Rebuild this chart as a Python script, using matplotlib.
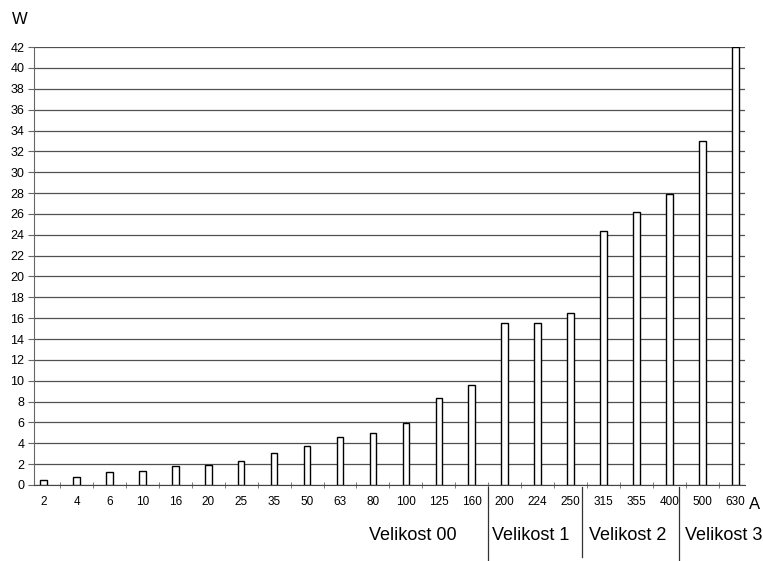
import numpy as np
import matplotlib
matplotlib.use("Agg")
import matplotlib.pyplot as plt

# proud [A] a ztratovy vykon [W]
proudy = ["2", "4", "6", "10", "16", "20", "25", "35", "50", "63", "80",
          "100", "125", "160", "200", "224", "250", "315", "355", "400", "500", "630"]
ztraty = [0.5, 0.75, 1.25, 1.35, 1.8, 1.95, 2.3, 3.1, 3.7, 4.6, 5.0,
          5.9, 8.3, 9.6, 15.5, 15.5, 16.5, 24.4, 26.2, 27.9, 33.0, 42.0]

# skupiny velikosti
skupiny = ["Velikost 00", "Velikost 1", "Velikost 2", "Velikost 3"]

plt.rcParams["font.family"] = ["Liberation Sans", "DejaVu Sans"]

fig = plt.figure(figsize=(7.63, 5.61), dpi=100)
ax = fig.add_axes([0.0446, 0.1355, 0.932, 0.7805])

x = np.arange(len(proudy))
ax.bar(x, ztraty, width=0.2, color="white", edgecolor="black", linewidth=1.0, zorder=3)

ax.set_ylim(0, 42)
ax.set_xlim(-0.29, 21.3)
ax.set_yticks(np.arange(0, 43, 2))
ax.yaxis.grid(True, color="#505050", linewidth=0.9, zorder=0)
ax.set_xticks(x)
ax.set_xticklabels(proudy, fontsize=8.5)
ax.set_xticks(np.arange(0.5, len(proudy) - 1, 1), minor=True)
ax.tick_params(axis="x", which="major", length=0, pad=8)
ax.tick_params(axis="x", which="minor", length=4, direction="inout", color="#666666")
ax.tick_params(axis="y", labelsize=9, length=4, color="#666666", pad=3)

for s in ["top", "right"]:
    ax.spines[s].set_visible(False)
ax.spines["left"].set_color("#666666")
ax.spines["bottom"].set_color("#444444")

fig.text(0.015, 0.965, "W", fontsize=12, va="center", ha="left")
ax.text(21.42, -0.045, "A", transform=ax.get_xaxis_transform(), fontsize=12,
        ha="left", va="center")

# popisky skupin a svisle oddelovace
trans = ax.get_xaxis_transform()
stredy = [11.2, 14.8, 17.72, 20.65]
for nazev, sx in zip(skupiny, stredy):
    ax.text(sx, -0.115, nazev, transform=trans, fontsize=13,
            ha="center", va="center")
for ox, dolu in [(13.5, -0.18), (16.35, -0.165), (19.3, -0.18)]:
    ax.plot([ox, ox], [-0.005, dolu], transform=trans,
            color="#333333", linewidth=0.9, clip_on=False)

fig.savefig("out.png", dpi=100)
